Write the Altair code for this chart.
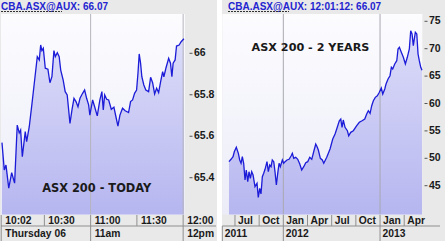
import altair as alt
import pandas as pd

# ---------------- data ----------------
# Left panel: intraday (minutes after midnight) and price
today_min = [602.5, 604.0, 605.1, 606.9, 608.8, 610.7, 612.4, 613.7, 614.6, 615.7,
             617.6, 618.5, 620.2, 622.0, 623.7, 625.4, 626.7, 627.6, 628.4, 629.3,
             630.6, 632.3, 633.6, 634.9, 636.2, 637.1, 638.4, 639.6, 640.6, 642.2,
             643.5, 644.8, 646.6, 647.9, 649.2, 650.5, 651.8, 653.1, 654.8, 656.1,
             657.4, 658.7, 659.5, 661.3, 662.6, 664.3, 666.0, 667.3, 668.2, 669.1,
             670.4, 671.7, 673.4, 675.1, 676.4, 677.7, 679.0, 680.7, 682.4, 684.6,
             685.9, 687.2, 688.5, 689.8, 690.7, 691.5, 692.4, 693.2, 694.5, 695.8,
             697.6, 698.9, 700.2, 701.5, 702.8, 704.1, 705.4, 706.7, 707.5, 708.8,
             710.6, 711.8, 712.7, 713.5, 714.8, 715.7, 717.4, 718.7, 720.5]
today_price = [65.569, 65.437, 65.461, 65.350, 65.424, 65.374, 65.654, 65.616, 65.630, 65.501,
               65.622, 65.574, 65.646, 65.760, 65.871, 65.984, 65.968, 66.040, 66.013, 66.024,
               65.928, 65.923, 65.858, 65.887, 66.013, 65.984, 66.003, 65.984, 65.919, 65.871,
               65.815, 65.799, 65.662, 65.727, 65.783, 65.767, 65.742, 65.783, 65.807, 65.823,
               65.783, 65.751, 65.702, 65.775, 65.742, 65.698, 65.775, 65.815, 65.727, 65.799,
               65.778, 65.775, 65.730, 65.740, 65.694, 65.649, 65.702, 65.735, 65.723, 65.714,
               65.767, 65.775, 65.807, 65.823, 65.904, 65.997, 65.952, 65.887, 65.847, 65.823,
               65.815, 65.884, 65.858, 65.804, 65.831, 65.810, 65.863, 65.911, 65.887, 65.928,
               65.976, 65.952, 65.887, 65.952, 65.968, 66.035, 66.040, 66.056, 66.070]

# Right panel: two years (decimal year) and price
two_year = [2011.438, 2011.459, 2011.480, 2011.493, 2011.514, 2011.535, 2011.549, 2011.563, 2011.576, 2011.590,
            2011.604, 2011.617, 2011.632, 2011.645, 2011.659, 2011.673, 2011.687, 2011.707, 2011.728, 2011.741,
            2011.756, 2011.769, 2011.783, 2011.797, 2011.811, 2011.831, 2011.845, 2011.859, 2011.873, 2011.886,
            2011.901, 2011.914, 2011.928, 2011.942, 2011.956, 2011.969, 2011.990, 2012.004, 2012.018, 2012.038,
            2012.059, 2012.080, 2012.093, 2012.108, 2012.128, 2012.149, 2012.170, 2012.190, 2012.211, 2012.232,
            2012.252, 2012.273, 2012.294, 2012.314, 2012.335, 2012.349, 2012.362, 2012.383, 2012.403, 2012.418,
            2012.449, 2012.483, 2012.511, 2012.535, 2012.552, 2012.579, 2012.594, 2012.607, 2012.620, 2012.638,
            2012.662, 2012.676, 2012.697, 2012.724, 2012.759, 2012.786, 2012.814, 2012.842, 2012.862, 2012.879,
            2012.897, 2012.914, 2012.931, 2012.951, 2012.972, 2012.993, 2013.013, 2013.028, 2013.049, 2013.062,
            2013.083, 2013.103, 2013.117, 2013.131, 2013.152, 2013.173, 2013.186, 2013.200, 2013.220, 2013.241,
            2013.262, 2013.282, 2013.303, 2013.317, 2013.331, 2013.344, 2013.365, 2013.380, 2013.393, 2013.406,
            2013.421, 2013.434]
two_price = [49.38, 49.82, 50.29, 51.20, 52.01, 50.91, 49.69, 49.09, 50.29, 49.09,
             46.04, 47.86, 45.73, 47.55, 46.35, 47.55, 46.95, 44.82, 45.44, 42.88,
             44.53, 43.49, 46.64, 47.26, 47.99, 49.38, 47.55, 48.78, 48.47, 49.69,
             49.38, 47.55, 45.13, 47.26, 49.09, 48.47, 49.69, 49.09, 49.38, 49.69,
             49.82, 50.42, 50.91, 50.00, 50.18, 49.82, 48.96, 47.86, 48.47, 49.20,
             49.38, 50.18, 49.82, 51.20, 52.61, 52.12, 51.51, 50.00, 49.69, 49.09,
             50.18, 51.70, 53.52, 54.43, 55.35, 56.86, 57.17, 55.66, 56.99, 55.66,
             55.04, 54.12, 54.74, 55.04, 55.95, 56.57, 56.86, 57.17, 58.08, 58.69,
             58.21, 59.60, 60.51, 61.13, 61.42, 62.04, 62.83, 61.73, 62.65, 63.56,
             64.47, 65.07, 66.61, 66.30, 67.21, 67.81, 69.95, 70.26, 69.34, 68.43,
             67.21, 68.43, 69.95, 73.28, 72.68, 70.55, 72.99, 72.68, 69.03, 67.81,
             66.61, 66.07]

# axis labels
today_tick_min = [602, 630, 660, 690, 720]
today_tick_lab = ["10:02", "10:30", "11:00", "11:30", "12:00"]
today_row2_min = [602, 660, 720]
today_row2_lab = ["Thursday 06", "11am", "12pm"]
today_grid = [660, 720]
today_yticks = [65.4, 65.6, 65.8, 66.0]
today_ylabs = ["65.4", "65.6", "65.8", "66"]

two_q = [2011.5, 2011.75, 2012.0, 2012.25, 2012.5, 2012.75, 2013.0, 2013.25]
two_q_lab = ["Jul", "Oct", "Jan", "Apr", "Jul", "Oct", "Jan", "Apr"]
two_row2 = [2011.369, 2012.0, 2013.0]
two_row2_lab = ["2011", "2012", "2013"]
two_grid = [2012.0, 2013.0]
two_yticks = [45, 50, 55, 60, 65, 70, 75]

header_left = "CBA.ASX@AUX: 66.07"
header_right = "CBA.ASX@AUX: 12:01:12: 66.07"
title_left = "ASX 200 - TODAY"
title_right = "ASX 200 - 2 YEARS"

# ---------------- scales ----------------
LX = alt.Scale(domain=[602, 721.2], range=[1.2, 185], zero=False, nice=False)
LY_MIN = 65.2226
LY = alt.Scale(domain=[LY_MIN, 66.1895], range=[214.5, 14], zero=False, nice=False)
RX = alt.Scale(domain=[2011.369, 2013.437], range=[222.3, 422.3], zero=False, nice=False)
RY_MIN = 39.745
RY = alt.Scale(domain=[RY_MIN, 76.332], range=[214.5, 14], zero=False, nice=False)

PANEL = "#e9e9e9"
SEP = "#8f8f8f"
TXT = "#1a1a1a"
LINE = "#1c1cd8"
HDR = "#2424d0"
FONT = "Liberation Sans"

one = pd.DataFrame({"k": [0]})

def rect(x1, x2, y1, y2, fill):
    return alt.Chart(one).mark_rect(fill=fill, strokeWidth=0).encode(
        x=alt.value(x1), x2=alt.value(x2), y=alt.value(y1), y2=alt.value(y2))

def hrule(x1, x2, y, color, dash=None):
    kw = dict(color=color, strokeWidth=1)
    if dash:
        kw["strokeDash"] = dash
    return alt.Chart(one).mark_rule(**kw).encode(
        x=alt.value(x1), x2=alt.value(x2), y=alt.value(y))

def label(x, y, text, size, color, font=FONT, align="left"):
    return alt.Chart(one).mark_text(text=text, fontSize=size, fontWeight="bold", font=font,
                                    color=color, align=align, baseline="middle").encode(
        x=alt.value(x), y=alt.value(y))

plot_grad = alt.Gradient(gradient="linear",
                         stops=[alt.GradientStop(color="#fcfcff", offset=0),
                                alt.GradientStop(color="#ececf8", offset=1)],
                         x1=0, x2=0, y1=0, y2=1)
area_grad = alt.Gradient(gradient="linear",
                         stops=[alt.GradientStop(color="#dcdcf9", offset=0),
                                alt.GradientStop(color="#b6b6f0", offset=1)],
                         x1=0, x2=0, y1=0, y2=1)

layers = []
# panel backgrounds
layers += [rect(0, 217, 0, 241, PANEL), rect(222, 445, 0, 241, PANEL)]
# plot backgrounds
layers += [
    alt.Chart(one).mark_rect(fill=plot_grad).encode(x=alt.value(1), x2=alt.value(185), y=alt.value(14), y2=alt.value(214.5)),
    alt.Chart(one).mark_rect(fill=plot_grad).encode(x=alt.value(222.3), x2=alt.value(422.3), y=alt.value(14), y2=alt.value(214.5)),
]

ldf = pd.DataFrame({"t": today_min, "p": today_price})
rdf = pd.DataFrame({"t": two_year, "p": two_price})

# areas and lines
layers.append(alt.Chart(ldf).mark_area(fill=area_grad).encode(
    x=alt.X("t:Q", scale=LX, axis=None), y=alt.Y("p:Q", scale=LY, axis=None), y2=alt.datum(LY_MIN)))
layers.append(alt.Chart(rdf).mark_area(fill=area_grad).encode(
    x=alt.X("t:Q", scale=RX, axis=None), y=alt.Y("p:Q", scale=RY, axis=None), y2=alt.datum(RY_MIN)))

# gridlines
layers.append(alt.Chart(pd.DataFrame({"t": today_grid})).mark_rule(color="#b4b4bc", strokeWidth=1).encode(
    x=alt.X("t:Q", scale=LX, axis=None), y=alt.value(14), y2=alt.value(214.5)))
layers.append(alt.Chart(pd.DataFrame({"t": two_grid})).mark_rule(color="#a8a8b0", strokeWidth=1).encode(
    x=alt.X("t:Q", scale=RX, axis=None), y=alt.value(14), y2=alt.value(214.5)))

layers.append(alt.Chart(ldf).mark_line(color=LINE, strokeWidth=1.3).encode(
    x=alt.X("t:Q", scale=LX, axis=None), y=alt.Y("p:Q", scale=LY, axis=None)))
layers.append(alt.Chart(rdf).mark_line(color=LINE, strokeWidth=1.3).encode(
    x=alt.X("t:Q", scale=RX, axis=None), y=alt.Y("p:Q", scale=RY, axis=None)))

# watermark titles
layers.append(label(96.7, 189, title_left, 11.4, TXT, font="DejaVu Sans", align="center"))
layers.append(label(310.5, 48.3, title_right, 11.2, TXT, font="DejaVu Sans", align="center"))

# headers
layers.append(label(1, 7, header_left, 10, HDR))
layers.append(hrule(1, 62, 11.5, "#333333", [2, 1]))
layers.append(label(228, 7, header_right, 10, HDR))
layers.append(hrule(228, 289, 11.5, "#333333", [2, 1]))

# y axes (tick + label)
lyt = pd.DataFrame({"v": today_yticks, "lab": today_ylabs})
layers.append(alt.Chart(lyt).mark_rule(color="#555555").encode(
    y=alt.Y("v:Q", scale=LY, axis=None), x=alt.value(189.5), x2=alt.value(192.5)))
layers.append(alt.Chart(lyt).mark_text(align="left", baseline="middle", fontSize=10.5, fontWeight="bold",
                                       font=FONT, color=TXT).encode(
    y=alt.Y("v:Q", scale=LY, axis=None), x=alt.value(194), text="lab:N"))
ryt = pd.DataFrame({"v": two_yticks, "lab": [str(v) for v in two_yticks]})
layers.append(alt.Chart(ryt).mark_rule(color="#555555").encode(
    y=alt.Y("v:Q", scale=RY, axis=None), x=alt.value(424.5), x2=alt.value(427.5)))
layers.append(alt.Chart(ryt).mark_text(align="left", baseline="middle", fontSize=10.5, fontWeight="bold",
                                       font=FONT, color=TXT).encode(
    y=alt.Y("v:Q", scale=RY, axis=None), x=alt.value(429), text="lab:N"))

# x axes: two rows of cells
layers.append(hrule(1, 216, 226, SEP))
layers.append(hrule(222.3, 440, 226, SEP))

def axis_row(vals, labs, scale, y1, y2, ytext, dx):
    df = pd.DataFrame({"t": vals, "lab": labs})
    sep = alt.Chart(df).mark_rule(color=SEP, strokeWidth=1).encode(
        x=alt.X("t:Q", scale=scale, axis=None), y=alt.value(y1), y2=alt.value(y2))
    txt = alt.Chart(df).mark_text(align="left", baseline="middle", dx=dx, fontSize=10.3,
                                  fontWeight="bold", font=FONT, color=TXT).encode(
        x=alt.X("t:Q", scale=scale, axis=None), y=alt.value(ytext), text="lab:N")
    return [sep, txt]

layers += axis_row(today_tick_min, today_tick_lab, LX, 215, 226, 220.7, 4)
layers += axis_row(today_row2_min, today_row2_lab, LX, 226, 241, 233.6, 4)
layers += axis_row(two_q, two_q_lab, RX, 215, 226, 220.7, 3)
layers += axis_row(two_row2, two_row2_lab, RX, 226, 241, 233.6, 2.5)

chart = alt.layer(*layers).resolve_scale(x="independent", y="independent").properties(
    width=445, height=241, padding=0, autosize=alt.AutoSizeParams(type="none"),
    background="white"
).configure_view(stroke=None)

chart.save("out.html", embed_options={"renderer": "svg", "actions": False})
